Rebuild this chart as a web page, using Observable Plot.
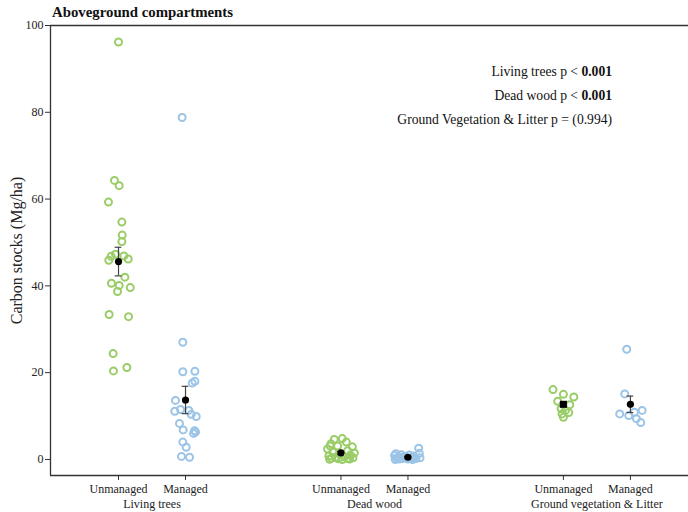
<!DOCTYPE html>
<html><head><meta charset="utf-8">
<script src="https://cdn.jsdelivr.net/npm/d3@7"></script>
<script src="https://cdn.jsdelivr.net/npm/@observablehq/plot@0.6"></script>
<style>
body{margin:0;background:#fff;}
#wrap{position:relative;width:688px;height:512px;font-family:"Liberation Serif","Times New Roman",serif;color:#111;}
#title{position:absolute;left:52px;top:3px;font-size:14.8px;font-weight:bold;line-height:18px;}
#notes{position:absolute;right:76px;top:60px;text-align:right;font-size:13.6px;line-height:23.8px;}
#chart svg text{font-family:"Liberation Serif","Times New Roman",serif;}
#chart svg g[aria-label="y-axis label"] text{font-size:16px;}
</style></head>
<body><div id="wrap"><div id="chart"></div><div id="title"></div><div id="notes"></div></div>
<script>
const titleText = "Aboveground compartments";
const yLabel = "Carbon stocks (Mg/ha)";
const yTicks = [0, 20, 40, 60, 80, 100];
const compartments = ["Living trees", "Dead wood", "Ground vegetation & Litter"];
const management = ["Unmanaged", "Managed"];
const mgmtColors = ["#9acd68", "#9cc4e6"];

// Living trees
const luVal = [96.2, 64.3, 63.1, 59.3, 54.7, 51.7, 50.2, 47.3, 46.8, 45.9, 46.9, 46.2, 42.0, 40.6, 40.1, 38.7, 39.6, 33.4, 32.9, 24.4, 20.4, 21.2];
const luJit = [0.0, -0.06, 0.01, -0.15, 0.05, 0.055, 0.05, -0.045, -0.11, -0.145, 0.08, 0.145, 0.095, -0.105, 0.01, -0.015, 0.175, -0.14, 0.15, -0.08, -0.075, 0.125];
const lmVal = [78.8, 27.0, 20.2, 20.3, 18.0, 17.6, 13.6, 11.1, 11.5, 11.3, 10.4, 9.9, 8.3, 6.8, 6.0, 6.3, 6.6, 4.0, 2.8, 0.7, 0.5];
const lmJit = [-0.05, -0.04, -0.04, 0.14, 0.14, 0.10, -0.15, -0.16, -0.075, 0.05, 0.085, 0.16, -0.09, -0.035, 0.12, 0.15, 0.135, -0.04, 0.01, -0.06, 0.06];
// Dead wood
const duVal = [4.6, 4.8, 4.0, 3.6, 3.1, 3.1, 2.9, 2.4, 2.0, 1.7, 1.5, 1.2, 1.0, 0.8, 0.6, 0.5, 0.4, 0.3, 0.2, 0.15, 0.1, 0.05, 0.0];
const duJit = [-0.1, 0.02, 0.08, -0.15, -0.16, -0.05, 0.17, -0.2, 0.1, -0.12, 0.2, -0.02, 0.14, -0.18, 0.05, -0.08, 0.18, -0.14, 0.1, -0.04, 0.13, -0.17, 0.02];
const dmVal = [2.6, 1.4, 0.4, 1.3, 1.1, 1.0, 0.9, 0.8, 0.7, 0.6, 0.5, 0.4, 0.3, 0.3, 0.2, 0.2, 0.1, 0.1, 0.0, 0.0];
const dmJit = [0.16, 0.17, 0.18, -0.18, -0.1, 0.02, -0.2, 0.08, -0.05, -0.14, 0.1, -0.02, -0.17, 0.05, -0.08, 0.12, -0.13, 0.0, -0.19, 0.07];
// Ground vegetation & litter
const guVal = [16.1, 15.0, 14.4, 13.4, 12.6, 11.7, 11.3, 10.8, 10.5, 9.7];
const guJit = [-0.155, 0.0, 0.155, -0.085, 0.095, -0.035, 0.03, 0.08, -0.02, 0.0];
const gmVal = [25.4, 15.1, 11.3, 10.9, 10.5, 10.1, 9.4, 8.5];
const gmJit = [-0.055, -0.085, 0.175, 0.06, -0.16, -0.025, 0.09, 0.155];

// Means and standard errors (order: LU, LM, DU, DM, GU, GM)
const meanValues = [45.6, 13.7, 1.5, 0.5, 12.7, 12.7];
const seValues = [3.3, 3.15, 0.3, 0.2, 0.4, 1.9];
const meanShapes = ["circle", "circle", "circle", "circle", "square", "circle"];

// p-value annotations
const pNames = ["Living trees", "Dead wood", "Ground Vegetation & Litter"];
const pRelations = ["<", "<", "="];
const pValues = ["0.001", "0.001", "(0.994)"];
const pBold = [true, true, false];

// ---- layout helpers ----
const GROUP_STEP = 3.32;
const X_DOMAIN = [-1.015, 8.507];
const Y_DOMAIN = [-3.7, 100];
const CAP = 0.05;
const xPos = (g, m) => g * GROUP_STEP + m;

const series = [[luVal, luJit], [lmVal, lmJit], [duVal, duJit], [dmVal, dmJit], [guVal, guJit], [gmVal, gmJit]];
const points = [];
series.forEach(([vals, jit], k) => {
  const g = Math.floor(k / 2), m = k % 2;
  vals.forEach((v, i) => points.push({g, m, value: v, x: xPos(g, m) + jit[i]}));
});
const means = meanValues.map((v, k) => ({g: Math.floor(k / 2), m: k % 2, x: xPos(Math.floor(k / 2), k % 2), mean: v, se: seValues[k], shape: meanShapes[k]}));

const tickPos = [], tickText = [];
compartments.forEach((c, g) => management.forEach((mm, mi) => { tickPos.push(xPos(g, mi)); tickText.push(mm); }));
const groupPos = compartments.map((c, g) => xPos(g, 0.5));

const axisColor = "#333";
const chart = Plot.plot({
  width: 688, height: 512,
  marginLeft: 50, marginRight: 0, marginTop: 25, marginBottom: 37,
  style: {fontSize: "12px", color: "#222", background: "white"},
  x: {domain: X_DOMAIN, axis: null},
  y: {domain: Y_DOMAIN, axis: null},
  marks: [
    Plot.ruleY([Y_DOMAIN[1]], {stroke: axisColor, strokeWidth: 1.3}),
    Plot.ruleY([Y_DOMAIN[0]], {stroke: axisColor, strokeWidth: 1.3}),
    Plot.ruleX([X_DOMAIN[0]], {stroke: axisColor, strokeWidth: 1.3}),
    Plot.axisY({ticks: yTicks, tickSize: 5, tickPadding: 2, stroke: axisColor, label: yLabel, labelAnchor: "center", labelArrow: "none", labelOffset: 40}),
    Plot.axisX({ticks: tickPos, tickFormat: d => tickText[tickPos.indexOf(d)], tickSize: 5, tickPadding: 4, stroke: axisColor, label: null}),
    Plot.axisX({ticks: groupPos, tickFormat: d => compartments[groupPos.indexOf(d)], tickSize: 0, tickPadding: 24, label: null}),
    Plot.dot(points, {x: "x", y: "value", r: 3.5, stroke: d => mgmtColors[d.m], strokeWidth: 2, fill: "none"}),
    Plot.ruleX(means, {x: "x", y1: d => d.mean - d.se, y2: d => d.mean + d.se, stroke: "#444", strokeWidth: 1.2}),
    Plot.ruleY(means, {y: d => d.mean + d.se, x1: d => d.x - CAP, x2: d => d.x + CAP, stroke: "#444", strokeWidth: 1.2}),
    Plot.ruleY(means, {y: d => d.mean - d.se, x1: d => d.x - CAP, x2: d => d.x + CAP, stroke: "#444", strokeWidth: 1.2}),
    Plot.dot(means.filter(d => d.shape === "circle"), {x: "x", y: "mean", r: 3.6, fill: "black"}),
    Plot.dot(means.filter(d => d.shape === "square"), {x: "x", y: "mean", r: 4, symbol: "square", fill: "black"})
  ]
});
document.getElementById("chart").appendChild(chart);
document.getElementById("title").textContent = titleText;
const notes = document.getElementById("notes");
pNames.forEach((n, i) => {
  const line = document.createElement("div");
  line.appendChild(document.createTextNode(`${n} p ${pRelations[i]} `));
  const v = document.createElement("span");
  v.textContent = pValues[i];
  if (pBold[i]) v.style.fontWeight = "bold";
  line.appendChild(v);
  notes.appendChild(line);
});
</script>
</body></html>
